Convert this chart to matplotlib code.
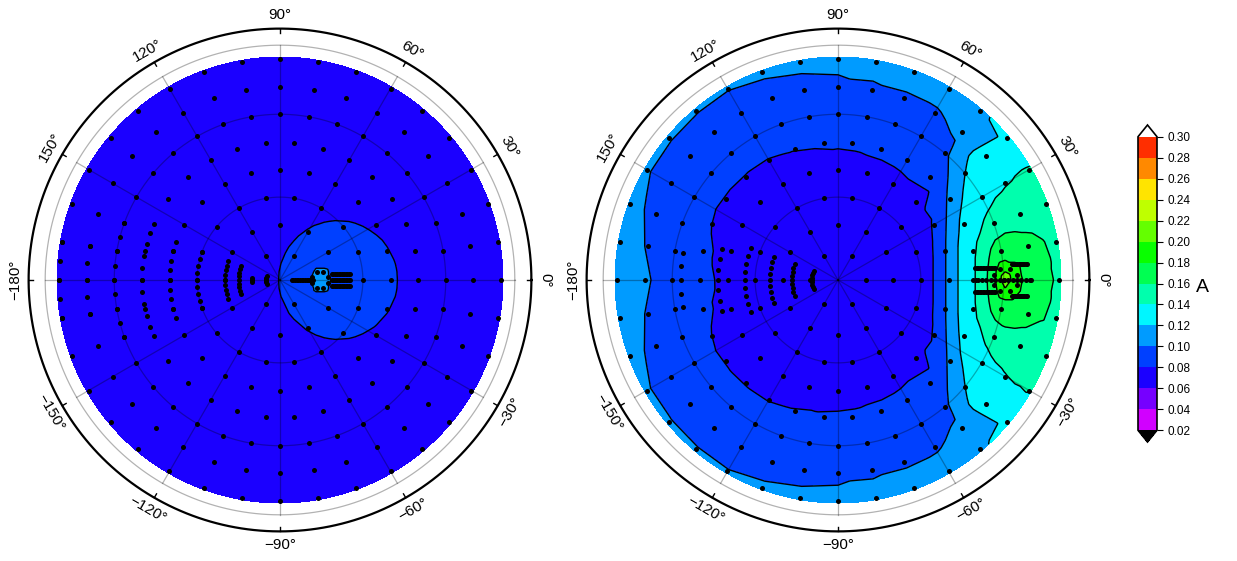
import numpy as np
import matplotlib
matplotlib.use("Agg")
import matplotlib.pyplot as plt
import matplotlib.tri as mtri
from matplotlib.colors import ListedColormap, BoundaryNorm

plt.rcParams['font.family'] = ['Liberation Sans', 'DejaVu Sans']

# ---------------- data ----------------
levels = [0.02, 0.04, 0.06, 0.08, 0.10, 0.12, 0.14, 0.16, 0.18, 0.20,
          0.22, 0.24, 0.26, 0.28, 0.30]
bin_colors = ['#d100ff', '#7600ff', '#1b00ff', '#0040ff', '#009bff', '#00f6ff',
              '#00ffad', '#00ff52', '#09ff00', '#64ff00', '#bfff00', '#ffe400',
              '#ff8900', '#ff2e00']
cbar_label = 'A'

az_ticks = [-180, -150, -120, -90, -60, -30, 0, 30, 60, 90, 120, 150]

ring_theta = [10, 20, 30, 40, 50, 60, 70, 80]
ring_count = [6, 12, 18, 24, 30, 36, 36, 36]

base_theta = [0, 10, 20, 30, 40, 50, 60, 70, 80, 90]
base_phi = [0, 30, 60, 90, 120, 150, 180]

left_base = [[0.0700] * 7 for _ in base_theta]
left_patch_u = [-10, 0, 5, 10, 13, 16, 20, 25, 30, 35, 40, 45]
left_patch_v = [0, 3, 6, 12, 18, 24]
left_patch = [
    [0.0743, 0.0803, 0.0833, 0.0863, 0.1130, 0.1130, 0.0923, 0.0905, 0.0875, 0.0845, 0.0815, 0.0785],
    [0.0742, 0.0802, 0.0831, 0.0861, 0.1050, 0.1050, 0.0921, 0.0899, 0.0869, 0.0843, 0.0814, 0.0784],
    [0.0739, 0.0798, 0.0826, 0.0854, 0.0930, 0.0930, 0.0892, 0.0886, 0.0864, 0.0838, 0.0810, 0.0781],
    [0.0730, 0.0784, 0.0809, 0.0831, 0.0843, 0.0851, 0.0857, 0.0853, 0.0839, 0.0819, 0.0794, 0.0768],
    [0.0713, 0.0761, 0.0784, 0.0802, 0.0811, 0.0817, 0.0821, 0.0819, 0.0808, 0.0792, 0.0772, 0.0749],
    [0.0700, 0.0738, 0.0756, 0.0771, 0.0777, 0.0782, 0.0785, 0.0783, 0.0775, 0.0762, 0.0745, 0.0726],
]

right_base = [
    [0.0720, 0.0720, 0.0720, 0.0720, 0.0720, 0.0720, 0.0720],
    [0.0725, 0.0720, 0.0715, 0.0710, 0.0710, 0.0710, 0.0710],
    [0.0735, 0.0730, 0.0720, 0.0715, 0.0715, 0.0715, 0.0715],
    [0.0750, 0.0745, 0.0730, 0.0725, 0.0725, 0.0725, 0.0725],
    [0.0800, 0.0790, 0.0765, 0.0740, 0.0750, 0.0760, 0.0770],
    [0.1000, 0.0900, 0.0830, 0.0820, 0.0795, 0.0790, 0.0835],
    [0.1300, 0.1050, 0.0880, 0.0880, 0.0870, 0.0880, 0.0950],
    [0.1450, 0.1200, 0.0970, 0.0970, 0.0940, 0.0950, 0.1015],
    [0.1500, 0.1300, 0.1120, 0.1040, 0.1005, 0.1010, 0.1080],
    [0.1500, 0.1300, 0.1200, 0.1070, 0.1040, 0.1050, 0.1120],
]
right_patch_u = [33, 38, 42, 46, 50, 54, 57, 60.5, 64, 68, 74, 82]
right_patch_v = [0, 4, 8, 14, 22, 32, 45]
right_patch = [
    [0.074, 0.095, 0.115, 0.129, 0.141, 0.160, 0.180, 0.215, 0.190, 0.176, 0.165, 0.155],
    [0.074, 0.095, 0.115, 0.129, 0.141, 0.159, 0.177, 0.195, 0.186, 0.174, 0.164, 0.154],
    [0.074, 0.095, 0.115, 0.129, 0.141, 0.157, 0.170, 0.176, 0.176, 0.172, 0.164, 0.153],
    [0.075, 0.095, 0.115, 0.128, 0.139, 0.152, 0.161, 0.166, 0.167, 0.166, 0.161, 0.150],
    [0.077, 0.094, 0.114, 0.126, 0.135, 0.142, 0.147, 0.150, 0.151, 0.151, 0.150, 0.146],
    [0.080, 0.093, 0.112, 0.122, 0.129, 0.134, 0.138, 0.141, 0.143, 0.144, 0.144, 0.142],
    [0.085, 0.092, 0.108, 0.118, 0.124, 0.128, 0.131, 0.133, 0.136, 0.138, 0.139, 0.138],
]

left_block_theta = [5, 10, 15, 20, 30, 40, 50, 60, 70, 80]
left_block_half = [15, 5, 20, 20, 20, 20, 20, 20, 10, 10]
right_block_theta = [9.4, 16.7, 24.6, 33.7, 43.5, 57.0]
right_block_half = [20, 20, 20, 20, 15, 10]

left_star = dict(center=(14.5, 0.0), ring_r=3.2,
                 bars=[(4.2, 12.0, 0.0), (18.7, 25.4, -2.1), (18.7, 25.4, 0.0), (18.7, 25.4, 2.1)])
right_star = dict(center=(60.5, 0.0), ring_r=4.5,
                  bars=[(49.6, 57.0, -4.2), (49.0, 69.5, 0.0), (49.6, 57.0, 4.2),
                        (62.9, 68.3, -5.8), (62.9, 68.3, 5.8)])

# ---------------- layout ----------------
W, H = 1237, 561
PX = 2.7625
HALF = 280

cmap = ListedColormap(bin_colors)
cmap.set_under('black')
cmap.set_over('white')
norm = BoundaryNorm(levels, cmap.N)

fig = plt.figure(figsize=(W / 100, H / 100), dpi=100)


def build_interp(base, pu, pv, patch, excl_u, excl_v):
    us, vs, fs = [], [], []
    fine_phi = np.arange(0, 360, 10.0)
    for i, th in enumerate(base_theta):
        row = base[i]
        if th == 0:
            phis, vals = [0.0], [row[0]]
        else:
            full_phi = base_phi + [360 - p for p in base_phi[-2:0:-1]] + [360]
            full_val = row + row[-2:0:-1] + [row[0]]
            phis = fine_phi
            vals = np.interp(fine_phi, full_phi, full_val)
        for p, val in zip(phis, vals):
            u = th * np.cos(np.radians(p)); v = th * np.sin(np.radians(p))
            if excl_u[0] <= u <= excl_u[1] and abs(v) <= excl_v:
                continue
            us.append(u); vs.append(v); fs.append(val)
    for j, v in enumerate(pv):
        for k, u in enumerate(pu):
            us.append(u); vs.append(v); fs.append(patch[j][k])
            if v > 0:
                us.append(u); vs.append(-v); fs.append(patch[j][k])
    tri = mtri.Triangulation(us, vs)
    return mtri.LinearTriInterpolator(tri, fs)


def sample_points(block_theta, block_half, star):
    pts = []
    for th, n in zip(ring_theta, ring_count):
        for j in range(n):
            a = np.radians(j * 360.0 / n)
            pts.append((th * np.cos(a), th * np.sin(a)))
    for th, hw in zip(block_theta, block_half):
        for a in np.arange(180 - hw, 180 + hw + 0.1, 5.0):
            r = np.radians(a)
            pts.append((th * np.cos(r), th * np.sin(r)))
    cu, cv = star['center']
    for k in range(8):
        a = np.radians(45 * k + 22.5)
        pts.append((cu + star['ring_r'] * np.cos(a), cv + star['ring_r'] * np.sin(a)))
    for u0, u1, v in star['bars']:
        for u in np.linspace(u0, u1, 14):
            pts.append((u, v))
    return np.array(pts)


def panel(cx, interp, pts):
    ax = fig.add_axes([(cx - HALF) / W, (H - 280 - HALF) / H, 2 * HALF / W, 2 * HALF / H])
    lim = HALF / PX
    ax.set_xlim(-lim, lim); ax.set_ylim(-lim, lim)
    ax.axis('off')

    th = np.linspace(0, 80.7, 240)
    ph = np.radians(np.linspace(0, 360, 721))
    TH, PH = np.meshgrid(th, ph)
    X = TH * np.cos(PH); Y = TH * np.sin(PH)
    Z = interp(X, Y)
    cf = ax.contourf(X, Y, Z, levels=levels, cmap=cmap, norm=norm, extend='both', zorder=1)
    ax.contour(X, Y, Z, levels=levels, colors='k', linewidths=1.0, zorder=3)

    t = np.linspace(0, 2 * np.pi, 500)
    for r in [30, 60, 85]:
        ax.plot(r * np.cos(t), r * np.sin(t), color='k', alpha=0.3, lw=0.9, zorder=2)
    for a in range(0, 360, 30):
        ra = np.radians(a)
        ax.plot([0, 85 * np.cos(ra)], [0, 85 * np.sin(ra)], color='k', alpha=0.3, lw=0.9, zorder=2)
    ax.plot(91 * np.cos(t), 91 * np.sin(t), color='k', lw=1.6, zorder=5)
    for a in az_ticks:
        ra = np.radians(a)
        ax.plot([89.4 * np.cos(ra), 91 * np.cos(ra)], [89.4 * np.sin(ra), 91 * np.sin(ra)],
                color='k', lw=1.0, zorder=5)
        rot = a - 90 if (a >= 0 or a == -180) else a + 90
        lab = ('\u2212' if a < 0 else '') + f'{abs(a)}\u00b0'
        ax.text(96 * np.cos(ra), 96 * np.sin(ra), lab, rotation=rot, rotation_mode='anchor',
                ha='center', va='center', fontsize=11, zorder=6)

    ax.scatter(pts[:, 0], pts[:, 1], s=13, c='k', linewidths=0, zorder=4)
    return cf


left_interp = build_interp(left_base, left_patch_u, left_patch_v, left_patch, (-11, 46), 25)
right_interp = build_interp(right_base, right_patch_u, right_patch_v, right_patch, (31, 95), 47)

cf = panel(280, left_interp, sample_points(left_block_theta, left_block_half, left_star))
panel(838, right_interp, sample_points(right_block_theta, right_block_half, right_star))

cax = fig.add_axes([1138 / W, (H - 442) / H, 19 / W, 317 / H])
cb = fig.colorbar(cf, cax=cax, extend='both', extendfrac=0.04, ticks=levels)
cb.outline.set_linewidth(1.2)
cax.tick_params(labelsize=8.5, length=4, width=0.8, direction='out')
cax.set_yticklabels([f'{v:.2f}' for v in levels])
fig.text(1196 / W, 1 - 287 / H, cbar_label, fontsize=14, ha='left', va='center')

fig.savefig('out.png', dpi=100)
